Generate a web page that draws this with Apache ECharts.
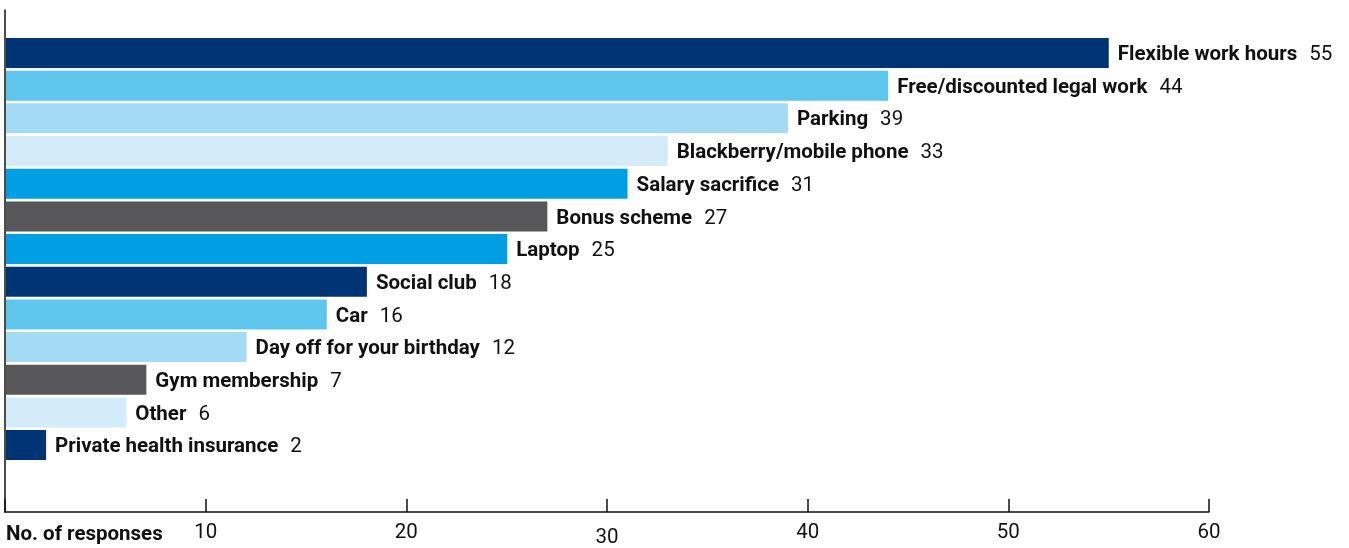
<!DOCTYPE html>
<html>
<head>
<meta charset="utf-8">
<script src="https://cdn.jsdelivr.net/npm/echarts@6/dist/echarts.min.js"></script>
<style>
html,body{margin:0;padding:0;background:#fff;}
#chart{width:1349px;height:548px;}
</style>
</head>
<body>
<div id="chart"></div>
<script>
const categories = ["Flexible work hours","Free/discounted legal work","Parking","Blackberry/mobile phone","Salary sacrifice","Bonus scheme","Laptop","Social club","Car","Day off for your birthday","Gym membership","Other","Private health insurance"];
const values = [55,44,39,33,31,27,25,18,16,12,7,6,2];
const tickValues = [10,20,30,40,50,60];
const axisTitle = "No. of responses";

const palette = ["#003575","#5EC6EC","#A3DBF4","#D4EBF9","#009FE3","#58585A","#009FE3","#003575","#5EC6EC","#A3DBF4","#58585A","#D4EBF9","#003575"];
const FONT = "Roboto";
const FS = 20.5;

const chart = echarts.init(document.getElementById('chart'));
chart.setOption({
  animation:false,
  title:{text:axisTitle,left:6,top:524,padding:0,textStyle:{fontFamily:FONT,fontWeight:'bold',fontSize:FS,color:'#111'}},
  grid:[
    {left:6,width:1203,top:36.7,height:424.7,containLabel:false},
    {left:5,width:1204,top:10,height:503,containLabel:false}
  ],
  xAxis:[
    {gridIndex:0,type:'value',min:0,max:60,show:false},
    {gridIndex:1,type:'value',min:0,max:60,interval:10,
      axisLine:{show:true,lineStyle:{color:'#111',width:1.5}},
      axisTick:{show:true,inside:true,length:13,lineStyle:{color:'#111',width:1.5}},
      splitLine:{show:false},
      axisLabel:{margin:10,fontFamily:FONT,fontSize:FS,color:'#111',
        formatter:function(v){ if(tickValues.indexOf(v)<0) return ''; return v===30?'{d|'+v+'}':'{n|'+v+'}'; },
        rich:{n:{fontFamily:FONT,fontSize:FS,color:'#111'},d:{fontFamily:FONT,fontSize:FS,color:'#111',padding:[5,0,0,0]}}
      }
    }
  ],
  yAxis:[
    {gridIndex:0,type:'category',data:categories,inverse:true,show:false},
    {gridIndex:1,type:'value',min:0,max:1,
      axisLine:{show:true,lineStyle:{color:'#111',width:1.5}},
      axisTick:{show:false},axisLabel:{show:false},splitLine:{show:false}}
  ],
  series:[{
    type:'bar',xAxisIndex:0,yAxisIndex:0,barWidth:30,
    data:values.map((v,i)=>({value:v,itemStyle:{color:palette[i]}})),
    label:{show:true,position:'right',distance:9,
      formatter:'{b|{b}}{v|{c}}',
      rich:{
        b:{fontFamily:FONT,fontWeight:'bold',fontSize:FS,color:'#111',padding:[4,12,0,0]},
        v:{fontFamily:FONT,fontSize:FS,color:'#111',padding:[4,0,0,0]}
      }
    }
  }]
});
</script>
</body>
</html>
